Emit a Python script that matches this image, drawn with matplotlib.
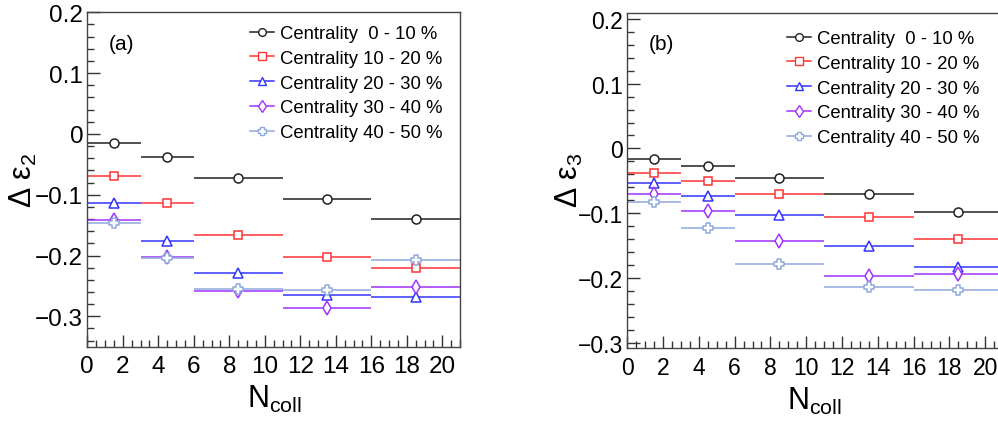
import matplotlib
matplotlib.use("Agg")
import matplotlib.pyplot as plt
from matplotlib.ticker import MultipleLocator, FuncFormatter
from matplotlib.lines import Line2D

plt.rcParams['font.family'] = ['Liberation Sans', 'DejaVu Sans']
plt.rcParams['mathtext.fontset'] = 'custom'
plt.rcParams['mathtext.rm'] = 'Liberation Sans'
plt.rcParams['mathtext.it'] = 'Liberation Sans'
plt.rcParams['mathtext.default'] = 'regular'

# N_coll bins
bin_edges = [0, 3, 6, 11, 16, 21]

centrality_labels = ["Centrality  0 - 10 %", "Centrality 10 - 20 %",
                     "Centrality 20 - 30 %", "Centrality 30 - 40 %",
                     "Centrality 40 - 50 %"]

# Delta epsilon_2 per centrality class
eps2_c0_10 = [-0.015, -0.038, -0.073, -0.107, -0.140]
eps2_c10_20 = [-0.070, -0.114, -0.167, -0.203, -0.221]
eps2_c20_30 = [-0.114, -0.176, -0.229, -0.265, -0.269]
eps2_c30_40 = [-0.141, -0.202, -0.259, -0.286, -0.251]
eps2_c40_50 = [-0.146, -0.204, -0.255, -0.256, -0.208]

# Delta epsilon_3 per centrality class
eps3_c0_10 = [-0.016, -0.027, -0.046, -0.071, -0.098]
eps3_c10_20 = [-0.038, -0.051, -0.070, -0.106, -0.140]
eps3_c20_30 = [-0.054, -0.073, -0.103, -0.151, -0.183]
eps3_c30_40 = [-0.071, -0.097, -0.143, -0.197, -0.194]
eps3_c40_50 = [-0.083, -0.123, -0.178, -0.214, -0.219]

colors = ['#222222', '#ff3333', '#3333ff', '#a033ff', '#90a8dd']

open_cross = [(-0.4, 1), (0.4, 1), (0.4, 0.4), (1, 0.4), (1, -0.4), (0.4, -0.4),
              (0.4, -1), (-0.4, -1), (-0.4, -0.4), (-1, -0.4), (-1, 0.4),
              (-0.4, 0.4), (-0.4, 1)]
markers = ['o', 's', '^', 'd', open_cross]
msizes = [6.5, 6.2, 7.0, 7.0, 7.5]

W, H = 998, 427
fig = plt.figure(figsize=(W / 100, H / 100), dpi=100)


def px_axes(x0, y0, x1, y1):
    return fig.add_axes([x0 / W, 1 - y1 / H, (x1 - x0) / W, (y1 - y0) / H])


def ytick_fmt(v, pos):
    if abs(v) < 1e-9:
        return '0'
    return f'{v:.1f}'.replace('-', '\u2212')


def draw_panel(ax, series, ylim, ylabel, tag, tick_fs, leg_xy, tag_xy, ylab_xy, xlab_xy):
    centers = [(a + b) / 2 for a, b in zip(bin_edges[:-1], bin_edges[1:])]
    lo = [c - a for c, a in zip(centers, bin_edges[:-1])]
    hi = [b - c for c, b in zip(centers, bin_edges[1:])]
    handles = []
    for vals, col, mk, ms in zip(series, colors, markers, msizes):
        ax.errorbar(centers, vals, xerr=[lo, hi], fmt='none', ecolor=col,
                    elinewidth=1.1, capsize=0)
        ax.plot(centers, vals, linestyle='none', marker=mk, ms=ms,
                mfc='white', mec=col, mew=1.1)
        handles.append(Line2D([], [], color=col, lw=1.1, marker=mk, ms=ms * 0.85,
                              mfc='white', mec=col, mew=1.0))
    ax.set_xlim(0, 21)
    ax.set_ylim(*ylim)
    ax.xaxis.set_major_locator(MultipleLocator(2))
    ax.xaxis.set_minor_locator(MultipleLocator(0.5))
    ax.yaxis.set_major_locator(MultipleLocator(0.1))
    ax.yaxis.set_minor_locator(MultipleLocator(0.02))
    ax.yaxis.set_major_formatter(FuncFormatter(ytick_fmt))
    ax.tick_params(which='both', direction='in', top=False, right=False,
                   colors='#333333', labelcolor='black')
    ax.tick_params(which='major', length=9, width=1.0, labelsize=tick_fs)
    ax.tick_params(which='minor', length=5, width=1.0)
    ax.tick_params(axis='x', pad=6)
    ax.tick_params(axis='y', pad=3)
    for sp in ax.spines.values():
        sp.set_color('#444444')
        sp.set_linewidth(1.0)
    ax.legend(handles, centrality_labels, loc='upper left',
              bbox_to_anchor=(leg_xy[0] / W, 1 - leg_xy[1] / H),
              bbox_transform=fig.transFigure, frameon=False, fontsize=13.3,
              handlelength=1.3, handletextpad=0.3, labelspacing=0.42,
              borderpad=0, borderaxespad=0)
    fig.text(tag_xy[0] / W, 1 - tag_xy[1] / H, tag, fontsize=15,
             ha='left', va='center')
    fig.text(ylab_xy[0] / W, 1 - ylab_xy[1] / H, ylabel, fontsize=22,
             rotation=90, ha='center', va='center')
    fig.text(xlab_xy[0] / W, 1 - xlab_xy[1] / H, r'$N_{coll}$', fontsize=22,
             ha='center', va='baseline')


ax_a = px_axes(87.3, 13.3, 460, 347.7)
draw_panel(ax_a, [eps2_c0_10, eps2_c10_20, eps2_c20_30, eps2_c30_40, eps2_c40_50],
           (-0.35, 0.2), r'$\Delta\ \varepsilon_{2}$', '(a)', 17.5,
           (250, 26), (109, 44), (23, 180), (274, 408))

ax_b = px_axes(627.3, 14, 1003, 349)
draw_panel(ax_b, [eps3_c0_10, eps3_c10_20, eps3_c20_30, eps3_c30_40, eps3_c40_50],
           (-0.308, 0.209), r'$\Delta\ \varepsilon_{3}$', '(b)', 16.5,
           (787, 31), (649, 44), (569, 180), (814, 410))

fig.savefig('out.png', dpi=100)
